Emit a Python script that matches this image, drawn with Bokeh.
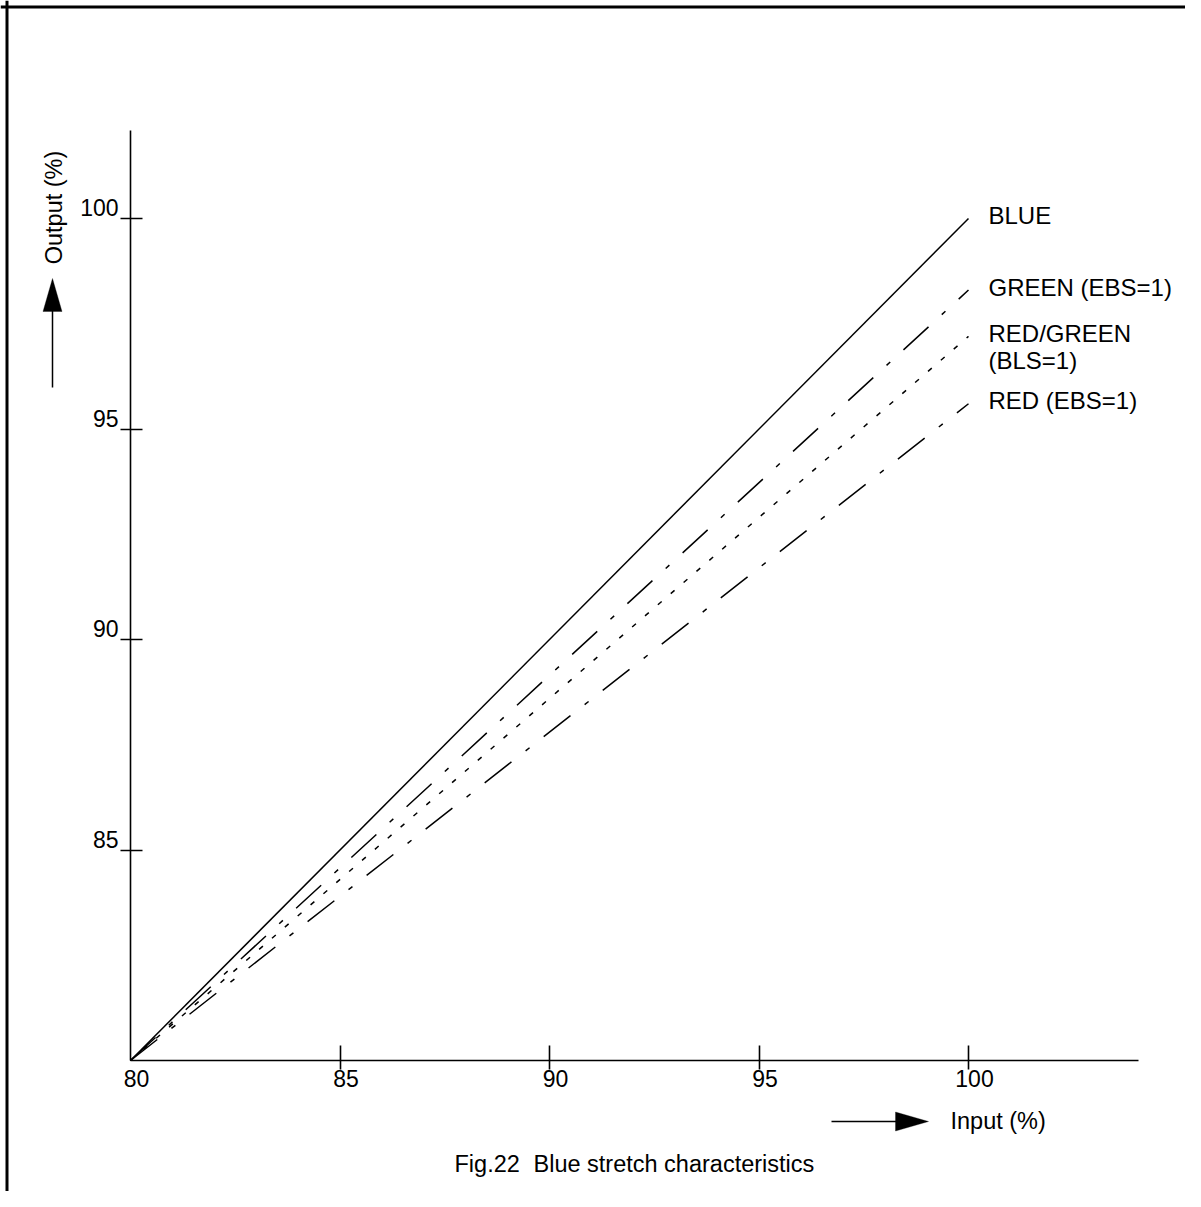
import math
from bokeh.plotting import figure
from bokeh.core.properties import value
from bokeh.models import (Range1d, FixedTicker, LabelSet, Label, Arrow, Span,
                          ColumnDataSource, PolyAnnotation, CustomLabelingPolicy)
from bokeh.embed import file_html
from bokeh.resources import INLINE

# ---------------- data ----------------
input_pts = [80, 100]
blue = [80, 100]
green_ebs = [80, 98.3]
red_green_bls = [80, 97.2]
red_ebs = [80, 95.6]
series_names = ["BLUE", "GREEN (EBS=1)", "RED/GREEN\n(BLS=1)", "RED (EBS=1)"]
x_tick_labels = [80, 85, 90, 95, 100]
y_tick_labels = [85, 90, 95, 100]
x_title = "Input (%)"
y_title = "Output (%)"
caption_parts = ["Fig.22", "Blue stretch characteristics"]

# ---------------- layout (page pixels) ----------------
W, H = 1185, 1191
AXL, AXB, AXR, AXT = 130, 1060, 1138, 130
X100, Y100 = 968, 218
kx = (X100 - AXL) / 20.0
ky = (AXB - Y100) / 20.0

def dx(sx):
    return 80 + (sx - AXL) / kx

def dy(sy):
    return 80 + (AXB - sy) / ky

FONT = "Liberation Sans"
FS = "23.5px"
FS_SER = "24px"
FS_TICK = "23px"

p = figure(width=W, height=H, output_backend="svg", toolbar_location=None,
           x_range=Range1d(dx(0), dx(W)), y_range=Range1d(dy(H), dy(0)),
           min_border=0, min_border_left=0, min_border_right=0,
           min_border_top=0, min_border_bottom=0)
p.outline_line_color = None
p.grid.visible = False
p.background_fill_color = "white"
p.border_fill_color = "white"

no_labels = CustomLabelingPolicy(code="return new Set()")
p.xaxis.fixed_location = 80
p.yaxis.fixed_location = 80
p.xaxis.bounds = (80, dx(AXR))
p.yaxis.bounds = (80, dy(AXT))
for ax, ticks, tin, tout in ((p.xaxis, x_tick_labels, 15, 9), (p.yaxis, y_tick_labels, 12, 10)):
    ax.ticker = FixedTicker(ticks=[t for t in ticks if t > 80])
    ax.major_tick_in = tin
    ax.major_tick_out = tout
    ax.minor_tick_line_color = None
    ax.axis_line_width = 1.6
    ax.major_tick_line_width = 1.6
    ax.axis_line_color = "black"
    ax.major_tick_line_color = "black"
    ax.major_label_policy = no_labels

# page frame (top and left edges visible)
p.add_layout(Span(location=dx(6.5), dimension="height", line_color="black", line_width=3))
p.add_layout(Span(location=dy(6.5), dimension="width", line_color="black", line_width=3))

# series lines
styles = [None, "34 18 5 18", "5 12", "34 18 5 18"]
series = [blue, green_ebs, red_green_bls, red_ebs]
for ys, dash in zip(series, styles):
    kw = {} if dash is None else {"line_dash": dash}
    p.line(input_pts, ys, line_color="black", line_width=1.5, **kw)

# series labels
for name, ys in zip(series_names, series):
    for i, line in enumerate(name.split("\n")):
        p.add_layout(Label(x=input_pts[-1], y=ys[-1], x_offset=20, y_offset=3 - 27 * i,
                           text=line, text_font=FONT, text_font_size=FS_SER,
                           text_align="left", text_baseline="middle", text_color="black"))

# tick labels
xs_src = ColumnDataSource(dict(x=x_tick_labels, y=[80] * len(x_tick_labels),
                               t=[str(v) for v in x_tick_labels]))
p.add_layout(LabelSet(x="x", y="y", text="t", source=xs_src, x_offset=6, y_offset=-18,
                      text_font=value(FONT), text_font_size=value(FS_TICK), text_align="center",
                      text_baseline="middle", text_color="black"))
ys_src = ColumnDataSource(dict(x=[80] * len(y_tick_labels), y=y_tick_labels,
                               t=[str(v) for v in y_tick_labels]))
p.add_layout(LabelSet(x="x", y="y", text="t", source=ys_src, x_offset=-12, y_offset=11,
                      text_font=value(FONT), text_font_size=value(FS_TICK), text_align="right",
                      text_baseline="middle", text_color="black"))

# axis titles with arrows
p.add_layout(Label(x=dx(950), y=dy(1120), text=x_title, text_font=FONT, text_font_size=FS,
                   text_align="left", text_baseline="middle", text_color="black"))
p.add_layout(Label(x=dx(53), y=dy(207), text=y_title, text_font=FONT, text_font_size=FS,
                   angle=math.pi / 2, text_align="center", text_baseline="middle",
                   text_color="black"))
p.add_layout(Arrow(end=None, x_start=dx(831), y_start=dy(1121), x_end=dx(900), y_end=dy(1121),
                   line_color="black", line_width=1.5))
p.add_layout(PolyAnnotation(xs=[dx(895), dx(928), dx(895)], ys=[dy(1111.5), dy(1121), dy(1130.5)],
                            fill_color="black", fill_alpha=1, line_color="black", line_width=1))
p.add_layout(Arrow(end=None, x_start=dx(52), y_start=dy(387), x_end=dx(52), y_end=dy(306),
                   line_color="black", line_width=1.5))
p.add_layout(PolyAnnotation(xs=[dx(42.5), dx(52), dx(61.5)], ys=[dy(311), dy(278), dy(311)],
                            fill_color="black", fill_alpha=1, line_color="black", line_width=1))

# caption (two words-groups, separated by a double space as in the original)
for part, left in zip(caption_parts, (454, 533)):
    p.add_layout(Label(x=dx(left), y=dy(1163), text=part, text_font=FONT, text_font_size=FS,
                       text_align="left", text_baseline="middle", text_color="black"))

open("out.html", "w").write(file_html(p, INLINE))
